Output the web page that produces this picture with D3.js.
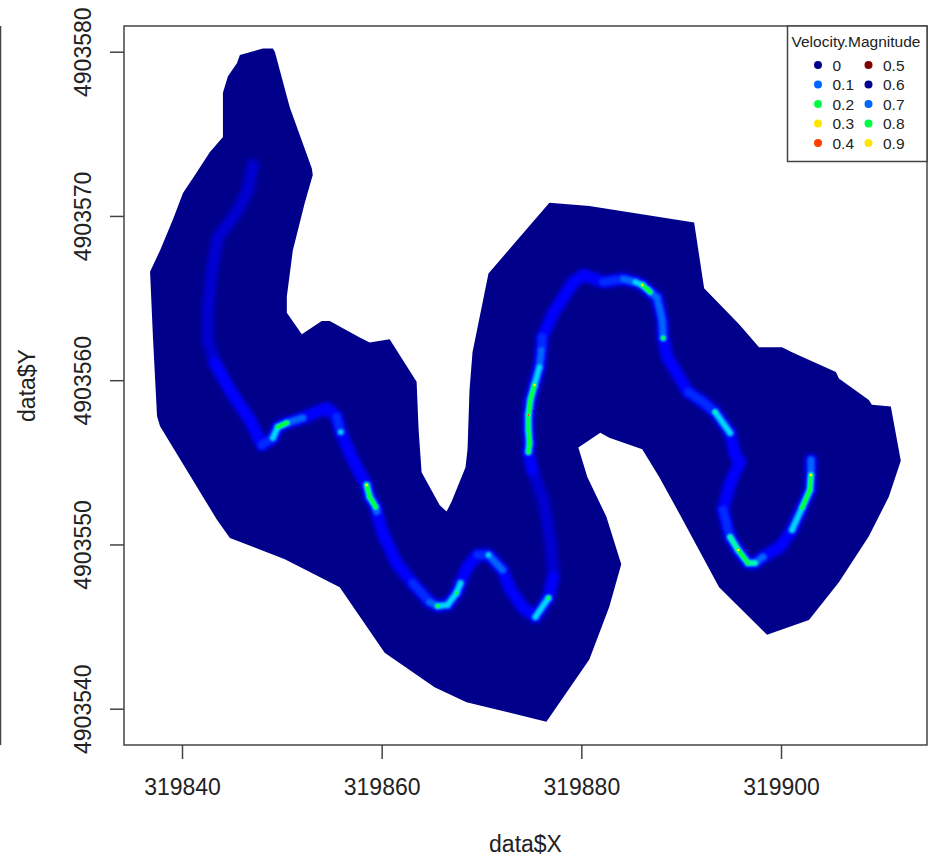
<!DOCTYPE html>
<html>
<head>
<meta charset="utf-8">
<script src="https://cdn.jsdelivr.net/npm/d3@7"></script>
<style>
  body { margin: 0; background: white; }
  text { font-family: "Liberation Sans", Arial, sans-serif; fill: #222; }
</style>
</head>
<body>
<svg id="chart"></svg>
<script>
// wetted area outline
const boundaryX = [319848.1,319849.1,319849.3,319850.8,319853.0,319853.1,319852.3,319851.1,319850.5,319850.5,319852.0,319854.0,319854.8,319857.8,319858.8,319860.8,319863.5,319863.7,319864.0,319865.8,319866.5,319867.0,319868.4,319868.6,319868.8,319869.1,319870.7,319876.8,319880.8,319891.3,319892.3,319895.8,319897.8,319900.1,319901.1,319905.5,319905.8,319908.8,319909.1,319911.0,319912.0,319910.8,319908.8,319905.8,319902.8,319898.6,319893.8,319889.8,319887.8,319886.1,319882.8,319881.9,319879.7,319880.6,319882.5,319884.0,319882.8,319880.8,319876.5,319868.5,319865.3,319860.3,319855.8,319850.3,319844.8,319843.5,319837.8,319837.5,319837.1,319836.8,319837.8,319839.1,319840.1,319841.3,319842.8,319844.1,319844.1,319844.6,319845.5,319845.8];
const boundaryY = [4903580.2,4903580.2,4903580.0,4903576.6,4903572.9,4903572.5,4903570.8,4903567.9,4903565.1,4903564.1,4903562.8,4903563.6,4903563.6,4903562.6,4903562.3,4903562.5,4903559.9,4903557.0,4903554.4,4903552.4,4903552.0,4903552.6,4903554.7,4903555.8,4903559.4,4903561.7,4903566.5,4903570.8,4903570.6,4903569.6,4903565.6,4903563.4,4903562.0,4903562.0,4903561.7,4903560.5,4903560.1,4903558.8,4903558.5,4903558.4,4903555.1,4903552.9,4903550.5,4903547.7,4903545.4,4903544.5,4903547.4,4903551.9,4903554.1,4903555.8,4903556.5,4903556.8,4903555.9,4903554.1,4903551.7,4903548.8,4903546.2,4903543.0,4903539.2,4903540.4,4903541.3,4903543.4,4903547.4,4903549.1,4903550.4,4903551.5,4903557.2,4903557.8,4903562.5,4903566.6,4903567.9,4903569.8,4903571.4,4903572.5,4903573.9,4903574.8,4903577.5,4903578.5,4903579.3,4903579.8];

// thalweg, upstream to downstream, with velocity
const channelX = [319847.1,319846.6,319845.5,319843.6,319843.0,319842.6,319842.6,319843.3,319844.8,319846.8,319848.0,319849.1,319849.6,319850.5,319852.1,319854.5,319855.5,319855.9,319856.8,319857.8,319858.5,319858.8,319859.4,319859.5,319860.1,319861.5,319863.1,319864.8,319865.6,319866.6,319867.5,319867.9,319868.6,319869.6,319870.7,319872.1,319872.9,319874.2,319875.4,319876.7,319877.2,319876.9,319876.2,319875.1,319874.7,319874.8,319874.7,319874.7,319874.9,319875.3,319875.8,319876.0,319876.1,319877.2,319879.2,319880.2,319882.2,319884.2,319885.4,319886.1,319886.9,319887.6,319888.1,319888.2,319888.6,319890.7,319892.2,319893.4,319894.9,319895.4,319895.9,319894.9,319894.2,319894.9,319895.7,319896.7,319897.4,319898.2,319899.9,319901.1,319902.1,319902.9,319903.0,319903.0];
const channelY = [4903573.10,4903571.58,4903570.24,4903568.72,4903566.71,4903564.46,4903562.45,4903561.05,4903559.40,4903557.58,4903556.06,4903556.48,4903557.15,4903557.40,4903557.70,4903558.31,4903557.76,4903556.85,4903555.57,4903554.35,4903553.62,4903552.89,4903552.28,4903552.00,4903550.70,4903548.87,4903547.65,4903546.50,4903546.25,4903546.32,4903547.05,4903547.65,4903548.63,4903549.36,4903549.36,4903548.45,4903547.23,4903546.13,4903545.59,4903546.74,4903548.02,4903550.27,4903552.71,4903554.53,4903555.63,4903556.18,4903556.97,4903557.88,4903558.80,4903559.71,4903560.80,4903561.84,4903562.63,4903564.09,4903565.98,4903566.41,4903565.98,4903566.16,4903565.98,4903565.80,4903565.37,4903565.00,4903563.67,4903562.57,4903561.41,4903559.28,4903558.67,4903558.06,4903556.79,4903555.45,4903555.02,4903553.74,4903552.10,4903550.46,4903549.66,4903548.87,4903548.87,4903549.24,4903549.85,4903550.88,4903552.22,4903553.32,4903554.23,4903555.14];
const channelV = [.03,.03,.03,.035,.035,.04,.04,.05,.05,.06,.07,.13,.2,.21,.1,.05,.07,.13,.05,.06,.3,.22,.2,.12,.06,.06,.07,.12,.2,.15,.2,.13,.06,.08,.13,.12,.06,.06,.13,.2,.05,.045,.045,.06,.2,.25,.22,.42,.23,.3,.14,.1,.09,.05,.05,.06,.07,.1,.15,.33,.2,.12,.1,.22,.05,.08,.07,.17,.13,.05,.05,.05,.08,.18,.28,.2,.18,.1,.06,.13,.2,.22,.3,.12];

const xTicks = [319840, 319860, 319880, 319900];
const yTicks = [4903540, 4903550, 4903560, 4903570, 4903580];

const legendLabels = ["0","0.1","0.2","0.3","0.4","0.5","0.6","0.7","0.8","0.9"];
const legendColors = ["#00008b","#0066ff","#00ff40","#ffe600","#ff4000","#7f0000","#00008b","#0066ff","#00ff40","#ffe600"];

// contour-ish bands, low to high, each one drawn narrower on top of the last
const bandLevels = [.03,.05,.07,.1,.13,.17,.2,.28,.35,.42];
const bandWidths = [12,10,8,6,5,4,3.4,2.6,2,1.6];
const bandBlur = [2,2,1.6,1.2,1,.8,.7,.6,.5,.4];

const width = 938, height = 859;
const left = 124, right = 927, top_ = 26, bottom = 745;

const svg = d3.select("#chart").attr("width", width).attr("height", height);

const x = d3.scaleLinear().domain([319840, 319900]).range([182, 781]);
const y = d3.scaleLinear().domain([4903540, 4903580]).range([708.7, 51.7]);

const color = d3.scaleLinear()
    .domain([0, .05, .1, .14, .2, .28, .4, .5])
    .range(["#00008b","#0000ff","#0066ff","#00ffff","#00ff40","#ffff00","#ff2000","#7f0000"]);

const defs = svg.append("defs");
bandLevels.forEach((l, i) => {
    defs.append("filter").attr("id", "blur" + i)
        .attr("x", "-5%").attr("y", "-5%").attr("width", "110%").attr("height", "110%")
        .append("feGaussianBlur").attr("stdDeviation", bandBlur[i]);
});

// stray edge of the next panel in the screenshot
svg.append("line")
    .attr("x1", 0.5).attr("x2", 0.5).attr("y1", top_).attr("y2", bottom)
    .attr("stroke", "#444").attr("stroke-width", 1.5);

let line = d3.line().x(d => x(d[0])).y(d => y(d[1]));
let outline = boundaryX.map((v, i) => [v, boundaryY[i]]);

svg.append("path")
    .attr("d", line(outline) + "Z")
    .attr("fill", "#00008b");

let channel = channelX.map((v, i) => ({x: v, y: channelY[i], v: channelV[i]}));
let clipped = svg.append("g");

for (let b = 0; b < bandLevels.length; b++) {
    let level = bandLevels[b];
    let g = clipped.append("g")
        .attr("filter", `url(#blur${b})`)
        .attr("stroke", color(level))
        .attr("fill", color(level))
        .attr("stroke-width", bandWidths[b])
        .attr("stroke-linecap", "round");

    let segs = d3.pairs(channel).filter(p => p[0].v >= level && p[1].v >= level);
    g.selectAll("line").data(segs).join("line")
        .attr("x1", d => x(d[0].x)).attr("y1", d => y(d[0].y))
        .attr("x2", d => x(d[1].x)).attr("y2", d => y(d[1].y));

    g.selectAll("circle").data(channel.filter(d => d.v >= level)).join("circle")
        .attr("cx", d => x(d.x)).attr("cy", d => y(d.y))
        .attr("r", bandWidths[b] / 2)
        .attr("stroke", "none");
}

// box
svg.append("rect")
    .attr("x", left).attr("y", top_)
    .attr("width", right - left).attr("height", bottom - top_)
    .attr("fill", "none").attr("stroke", "#444").attr("stroke-width", 1.5);

// axes
const xAxis = svg.append("g")
    .attr("transform", `translate(0,${bottom})`)
    .call(d3.axisBottom(x).tickValues(xTicks).tickFormat(d3.format("d")).tickSize(14));
xAxis.select(".domain").remove();
xAxis.selectAll("line").attr("stroke", "#444").attr("stroke-width", 1.5);
xAxis.selectAll("text")
    .attr("y", 50).attr("dy", 0)
    .style("font-size", "23px").style("font-family", "Liberation Sans");

const yAxis = svg.append("g")
    .attr("transform", `translate(${left},0)`)
    .call(d3.axisLeft(y).tickValues(yTicks).tickFormat(d3.format("d")).tickSize(14));
yAxis.select(".domain").remove();
yAxis.selectAll("line").attr("stroke", "#444").attr("stroke-width", 1.5);
yAxis.selectAll("text")
    .attr("x", 0).attr("y", -33).attr("dy", 0)
    .attr("transform", "rotate(-90)")
    .attr("text-anchor", "middle")
    .style("font-size", "23px").style("font-family", "Liberation Sans");

svg.append("text")
    .attr("x", (left + right) / 2).attr("y", 852)
    .attr("text-anchor", "middle").style("font-size", "23px")
    .text("data$X");

svg.append("text")
    .attr("transform", `translate(35,${(top_ + bottom) / 2}) rotate(-90)`)
    .attr("text-anchor", "middle").style("font-size", "23px")
    .text("data$Y");

// legend
const legend = svg.append("g");
legend.append("rect")
    .attr("x", 787.5).attr("y", top_)
    .attr("width", right - 787.5).attr("height", 135.5)
    .attr("fill", "white").attr("stroke", "#444").attr("stroke-width", 1.5);
legend.append("text")
    .attr("x", 856).attr("y", 47)
    .attr("text-anchor", "middle").style("font-size", "15.5px")
    .text("Velocity.Magnitude");

const legendCol = i => i < 5 ? 818 : 868.5;
const legendRow = i => 65 + (i % 5) * 19.5;
legend.selectAll("circle").data(legendLabels).join("circle")
    .attr("cx", (d, i) => legendCol(i))
    .attr("cy", (d, i) => legendRow(i))
    .attr("r", 4)
    .attr("fill", (d, i) => legendColors[i]);
legend.selectAll("text.lab").data(legendLabels).join("text")
    .attr("class", "lab")
    .attr("x", (d, i) => legendCol(i) + 14.5)
    .attr("y", (d, i) => legendRow(i) + 5.5)
    .style("font-size", "15.5px")
    .text(d => d);
</script>
</body>
</html>
